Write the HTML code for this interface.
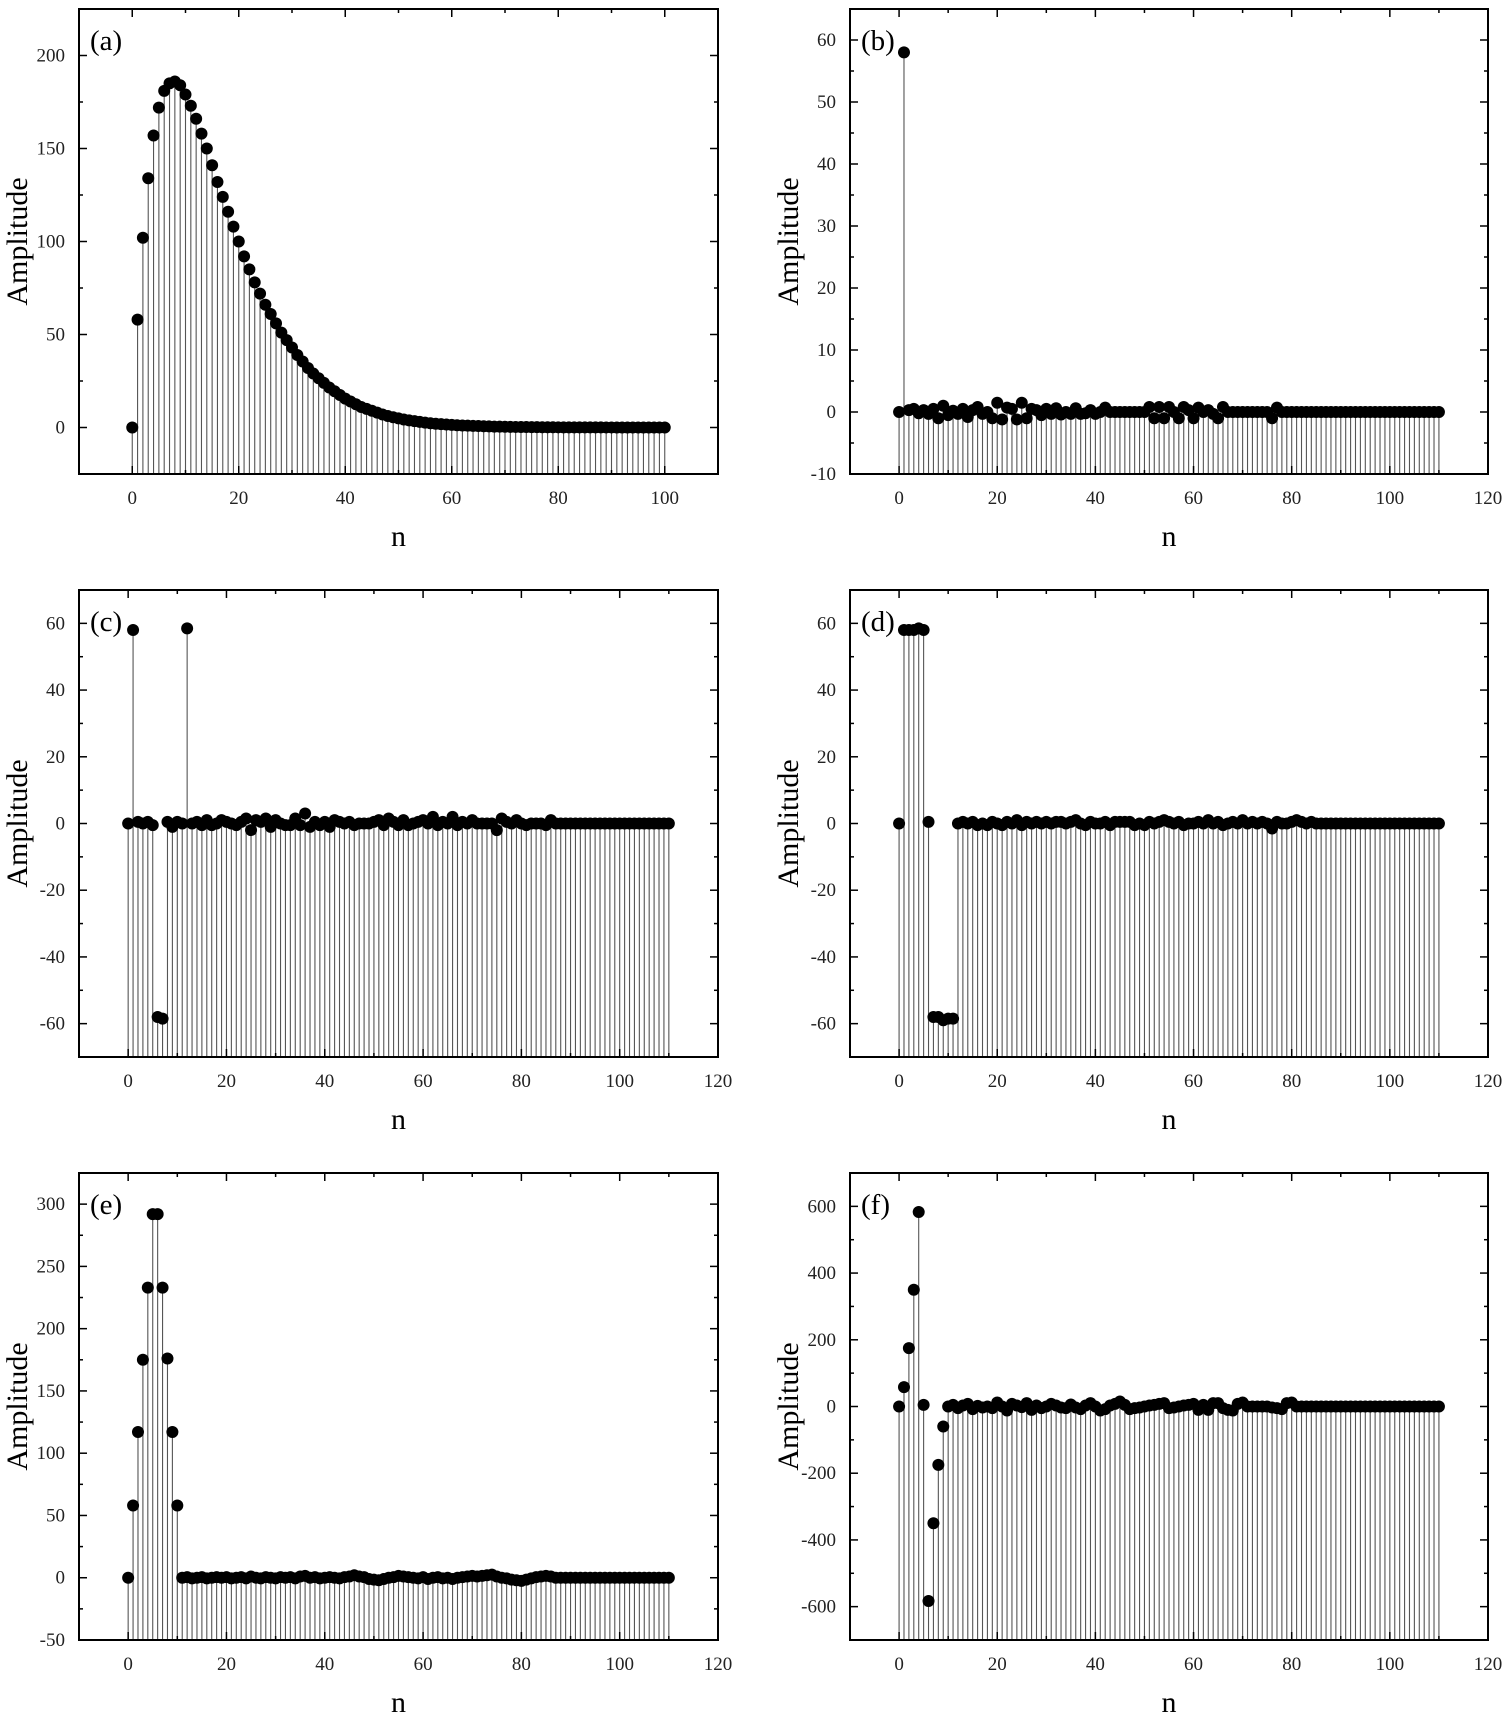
<!DOCTYPE html>
<html><head><meta charset="utf-8">
<style>
html,body{margin:0;padding:0;background:#fff;}
svg{display:block;}
svg text{font-family:"Liberation Serif","Times New Roman",serif;}
</style></head>
<body>
<svg id="fig" width="1502" height="1718" viewBox="0 0 1502 1718" xmlns="http://www.w3.org/2000/svg" font-family="Liberation Serif, serif"></svg>
<script>
// ---------- data ----------
const dataA = [0,58,102,134,157,172,181,185,186,184,179,173,166,158,150,141,132,124,116,108,100,92,85,78,72,66,61,56,51,47,43,39,35.5,32,29,26.5,24,21.5,19.5,17.5,15.5,14,12.5,11,10,9,8,7,6.2,5.5,4.9,4.3,3.8,3.4,3,2.6,2.3,2,1.8,1.6,1.4,1.2,1.1,1,0.9,0.8,0.7,0.6,0.5,0.45,0.4,0.35,0.3,0.27,0.24,0.2,0.18,0.16,0.14,0.12,0.1,0.09,0.08,0.07,0.06,0.05,0.05,0.04,0.04,0.03,0.03,0.02,0.02,0.02,0.01,0.01,0.01,0.01,0.01,0,0];
const dataB = [0,58,0.3,0.5,-0.2,0.3,-0.3,0.5,-1,1,-0.5,0.2,-0.3,0.5,-0.8,0.3,0.8,-0.3,0,-1,1.5,-1.2,0.7,0.5,-1.2,1.5,-1,0.5,0.3,-0.5,0.5,-0.3,0.6,-0.4,0,-0.3,0.6,-0.3,-0.2,0.3,-0.3,0,0.7,0,0,0,0,0,0,0,0,0.8,-1,0.8,-1,0.8,0,-1,0.8,0.3,-1,0.7,0,0.3,-0.3,-1,0.8,0,0,0,0,0,0,0,0,0,-1,0.7,0,0,0,0,0,0,0,0,0,0,0,0,0,0,0,0,0,0,0,0,0,0,0,0,0,0,0,0,0,0,0,0,0];
const dataC = [0,58,0.5,0,0.5,-0.5,-58,-58.5,0.5,-1,0.5,0,58.5,0,0.5,-0.5,1,-0.5,0,1,0.5,0,-0.5,0.5,1.5,-2,1,0.5,1.5,-1,1,0,-0.5,-0.5,1.5,-0.5,3,-1,0.5,-0.5,0.5,-1,1,0.5,0,0.5,-0.5,0,0,0,0.5,1,-0.5,1.5,0.5,-0.5,1,-0.5,0,0.5,1,0,2,-0.5,0.5,0,2,-0.5,0.5,0,1,0,0,0,0,-2,1.5,0.5,0,1,0,-0.5,0,0,0,-0.5,1,0,0,0,0,0,0,0,0,0,0,0,0,0,0,0,0,0,0,0,0,0,0,0,0];
const dataD = [0,58,58,58,58.5,58,0.5,-58,-58,-59,-58.5,-58.5,0,0.5,0,0.5,-0.5,0,-0.5,0.5,0,-0.5,0.5,0,1,-0.5,0.5,0,0.5,0,0.5,0,0.5,0.5,0,0.5,1,0,-0.5,0.5,0,0,0.5,-0.5,0.5,0.5,0.5,0.5,-0.5,0,-0.5,0.5,0,0.5,1,0.5,0,0.5,-0.5,0,0,0.5,0,1,0,0.5,-0.5,0,0.5,0,1,0,0.5,0,0.5,0,-1.5,0.5,0,0,0.5,1,0.5,0,0.5,0,0,0,0,0,0,0,0,0,0,0,0,0,0,0,0,0,0,0,0,0,0,0,0,0,0];
const dataE = [0,58,117,175,233,292,292,233,176,117,58,0,0.5,-0.5,0,0.5,-0.5,0,0.5,0,0.5,-0.5,0,0.5,-0.5,1,0,-0.5,0.5,0,-0.5,0.5,0,0.5,-0.5,1,1.5,0,0.5,-0.5,0,0.5,0,-0.5,0.5,1,2,1,0.5,-1,-1.5,-2,-1,0,0.5,1.5,1,0.5,0,-0.5,0.5,-1,0,0.5,-0.5,0,-1,0,0.5,1,1.5,1,1.5,2,2.5,1,0,-0.5,-1.5,-2,-2.5,-1.5,-0.5,0.5,1,1.5,1,0,0,0,0,0,0,0,0,0,0,0,0,0,0,0,0,0,0,0,0,0,0,0,0];
const dataF = [0,58,175,350,583,5,-583,-350,-175,-60,0,5,-5,3,8,-8,2,-3,0,-5,12,0,-12,8,3,-2,10,-10,3,-5,0,8,3,-3,-5,6,-3,-8,3,10,0,-12,-8,3,8,15,5,-8,-5,-3,0,3,5,8,10,-5,-3,0,3,5,8,-10,5,-10,10,10,-5,-10,-12,8,12,0,0,0,0,0,-3,-5,-8,10,12,0,0,0,0,0,0,0,0,0,0,0,0,0,0,0,0,0,0,0,0,0,0,0,0,0,0,0,0,0,0];
const yTicksA = [0,50,100,150,200];
const yTicksB = [-10,0,10,20,30,40,50,60];
const yTicksC = [-60,-40,-20,0,20,40,60];
const yTicksE = [-50,0,50,100,150,200,250,300];
const yTicksF = [-600,-400,-200,0,200,400,600];
const xTicksA = [0,20,40,60,80,100];
const xTicksB = [0,20,40,60,80,100,120];

const NS = "http://www.w3.org/2000/svg";
const svg = document.getElementById('fig');
function mk(tag, attrs, parent){
  const e = document.createElementNS(NS, tag);
  for (const k in attrs) e.setAttribute(k, attrs[k]);
  (parent||svg).appendChild(e);
  return e;
}
const FF = 'Liberation Serif, serif';
const panels = [
  {id:'a', x0:79, x1:718, y0:9, y1:474, xr:[-10,110], yr:[-25,225], data:dataA, yt:yTicksA, xt:xTicksA},
  {id:'b', x0:850, x1:1488, y0:9, y1:474, xr:[-10,120], yr:[-10,65], data:dataB, yt:yTicksB, xt:xTicksB},
  {id:'c', x0:79, x1:718, y0:590, y1:1057, xr:[-10,120], yr:[-70,70], data:dataC, yt:yTicksC, xt:xTicksB},
  {id:'d', x0:850, x1:1488, y0:590, y1:1057, xr:[-10,120], yr:[-70,70], data:dataD, yt:yTicksC, xt:xTicksB},
  {id:'e', x0:79, x1:718, y0:1173, y1:1640, xr:[-10,120], yr:[-50,325], data:dataE, yt:yTicksE, xt:xTicksB},
  {id:'f', x0:850, x1:1488, y0:1173, y1:1640, xr:[-10,120], yr:[-700,700], data:dataF, yt:yTicksF, xt:xTicksB},
];
panels.forEach(p=>{
  const g = mk('g', {});
  
  
  const sx = v => p.x0 + (v - p.xr[0])/(p.xr[1]-p.xr[0])*(p.x1-p.x0);
  const sy = v => p.y1 - (v - p.yr[0])/(p.yr[1]-p.yr[0])*(p.y1-p.y0);
  const stems = mk('g', {stroke:'#555','stroke-width':1.1}, g);
  
  
  p.data.forEach((v,i)=>{ mk('line',{x1:sx(i),x2:sx(i),y1:sy(v),y2:p.y1},stems); });
  const dots = mk('g', {fill:'#000'}, g);
  
  
  p.data.forEach((v,i)=>{ mk('circle',{cx:sx(i),cy:sy(v),r:6},dots); });
  const fr = mk('rect',{x:p.x0,y:p.y0,width:p.x1-p.x0,height:p.y1-p.y0,fill:'none',stroke:'#000','stroke-width':2},g);
  
  
  const dy = p.yt[1]-p.yt[0];
  for (let k=0;k<p.yt.length*2+2;k++){
    const v = p.yt[0] - dy + k*dy/2;
    if (v < p.yr[0]-1e-9 || v > p.yr[1]+1e-9) continue;
    const major = (k%2===0);
    const L = major?8:4;
    mk('line',{x1:p.x0,x2:p.x0+L,y1:sy(v),y2:sy(v),stroke:'#000','stroke-width':1.5},g);
    mk('line',{x1:p.x1,x2:p.x1-L,y1:sy(v),y2:sy(v),stroke:'#000','stroke-width':1.5},g);
  }
  p.yt.forEach(v=>{
    const t = mk('text',{x:p.x0-14,y:sy(v)+6,'text-anchor':'end','font-size':19,fill:'#222','font-family':FF},g);
    t.textContent = v;
    
    
  });
  for (let v=p.xr[0]; v<=p.xr[1]; v+=10){
    const major = (v%20===0);
    const L = major?8:4;
    mk('line',{x1:sx(v),x2:sx(v),y1:p.y1,y2:p.y1-L,stroke:'#000','stroke-width':1.5},g);
    mk('line',{x1:sx(v),x2:sx(v),y1:p.y0,y2:p.y0+L,stroke:'#000','stroke-width':1.5},g);
  }
  p.xt.forEach(v=>{
    const t = mk('text',{x:sx(v),y:p.y1+30,'text-anchor':'middle','font-size':19,fill:'#222','font-family':FF},g);
    t.textContent = v;
    
    
  });
  const xl = mk('text',{x:(p.x0+p.x1)/2,y:p.y1+72,'text-anchor':'middle','font-size':30,fill:'#000','font-family':FF},g);
  xl.textContent = 'n';
  
  
  const yc = (p.y0+p.y1)/2, yx = p.x0-52;
  const yl = mk('text',{x:yx,y:yc,'text-anchor':'middle','font-size':30,fill:'#000','font-family':FF,transform:'rotate(-90 '+yx+' '+yc+')'},g);
  yl.textContent = 'Amplitude';
  
  
  const pl = mk('text',{x:p.x0+11,y:p.y0+41,'font-size':29,fill:'#000','font-family':FF},g);
  pl.textContent = '('+p.id+')';
  
  
});
</script>
</body></html>
